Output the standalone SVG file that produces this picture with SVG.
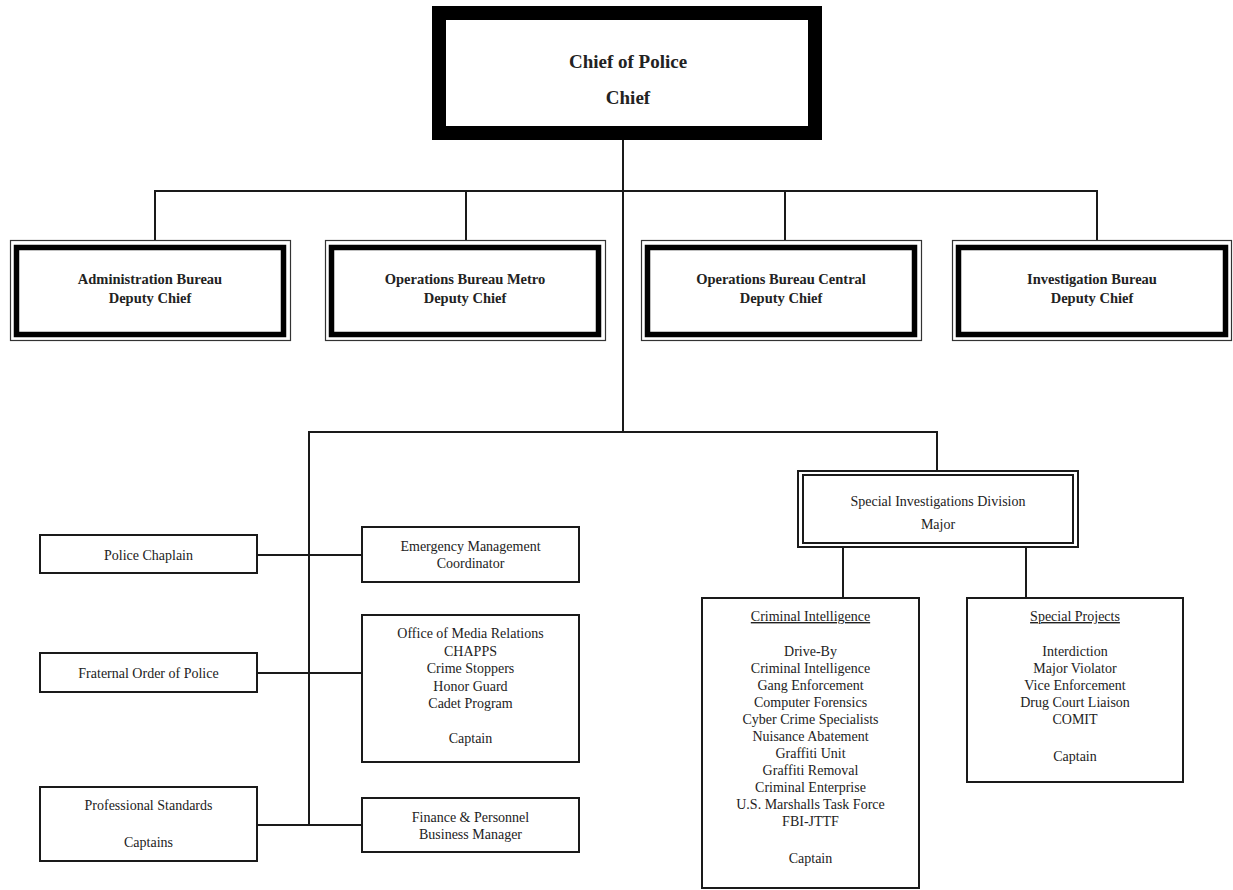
<svg xmlns="http://www.w3.org/2000/svg" width="1233" height="890" viewBox="0 0 1233 890">
<style>
.bg{fill:#fff}
.ln{stroke:#1a1a1a;stroke-width:2;fill:none}
.box{fill:#fff;stroke:#1a1a1a;stroke-width:2}
.thin{fill:#fff;stroke:#333;stroke-width:1.2}
.thick{fill:none;stroke:#000;stroke-width:5.5}
.t{font-family:"Liberation Serif","Times New Roman",serif;font-size:14px;fill:#222;text-anchor:middle}
.b{font-family:"Liberation Serif","Times New Roman",serif;font-size:14.5px;font-weight:bold;fill:#222;text-anchor:middle}
.c{font-family:"Liberation Serif","Times New Roman",serif;font-size:19px;font-weight:bold;fill:#222;text-anchor:middle}
.u{text-decoration:underline}
</style>
<rect class="bg" x="0" y="0" width="1233" height="890"/>
<g id="connectors">
<path class="ln" d="M623,140 V432"/>
<path class="ln" d="M155,240 V191 H1097 V240"/>
<path class="ln" d="M466,191 V240"/>
<path class="ln" d="M785,191 V240"/>
<path class="ln" d="M309,825 V432 H937 V471"/>
<path class="ln" d="M257,555 H362"/>
<path class="ln" d="M257,673 H362"/>
<path class="ln" d="M257,825 H362"/>
<path class="ln" d="M843,547 V598"/>
<path class="ln" d="M1026,547 V598"/>
</g>
<g id="chief">
<rect x="439" y="13" width="376" height="120" fill="#fff" stroke="#000" stroke-width="14"/>
<text class="c" x="628" y="68">Chief of Police</text>
<text class="c" x="628" y="104">Chief</text>
</g>
<g id="admin">
<rect class="thin" x="10.5" y="240.5" width="280" height="100"/>
<rect class="thick" x="16.5" y="247.5" width="267" height="87"/>
<text class="b" x="150" y="284">Administration Bureau</text>
<text class="b" x="150" y="303">Deputy Chief</text>
</g>
<g id="metro">
<rect class="thin" x="325.5" y="240.5" width="280" height="100"/>
<rect class="thick" x="331.5" y="247.5" width="267" height="87"/>
<text class="b" x="465" y="284">Operations Bureau Metro</text>
<text class="b" x="465" y="303">Deputy Chief</text>
</g>
<g id="central">
<rect class="thin" x="641.5" y="240.5" width="280" height="100"/>
<rect class="thick" x="647.5" y="247.5" width="267" height="87"/>
<text class="b" x="781" y="284">Operations Bureau Central</text>
<text class="b" x="781" y="303">Deputy Chief</text>
</g>
<g id="investigation">
<rect class="thin" x="952.5" y="240.5" width="279" height="100"/>
<rect class="thick" x="958.5" y="247.5" width="267" height="87"/>
<text class="b" x="1092" y="284">Investigation Bureau</text>
<text class="b" x="1092" y="303">Deputy Chief</text>
</g>
<g id="chaplain">
<rect class="box" x="40" y="535" width="217" height="38"/>
<text class="t" x="148.5" y="560">Police Chaplain</text>
</g>
<g id="emergency">
<rect class="box" x="362" y="527" width="217" height="55"/>
<text class="t" x="470.5" y="551">Emergency Management</text>
<text class="t" x="470.5" y="568">Coordinator</text>
</g>
<g id="fraternal">
<rect class="box" x="40" y="653" width="217" height="39"/>
<text class="t" x="148.5" y="678">Fraternal Order of Police</text>
</g>
<g id="media">
<rect class="box" x="362" y="615" width="217" height="147"/>
<text class="t" x="470.5" y="638">Office of Media Relations</text>
<text class="t" x="470.5" y="656">CHAPPS</text>
<text class="t" x="470.5" y="673">Crime Stoppers</text>
<text class="t" x="470.5" y="691">Honor Guard</text>
<text class="t" x="470.5" y="708">Cadet Program</text>
<text class="t" x="470.5" y="743">Captain</text>
</g>
<g id="standards">
<rect class="box" x="40" y="787" width="217" height="74"/>
<text class="t" x="148.5" y="810">Professional Standards</text>
<text class="t" x="148.5" y="847">Captains</text>
</g>
<g id="finance">
<rect class="box" x="362" y="798" width="217" height="54"/>
<text class="t" x="470.5" y="822">Finance &amp; Personnel</text>
<text class="t" x="470.5" y="839">Business Manager</text>
</g>
<g id="sid">
<rect class="box" x="798" y="471" width="280" height="76"/>
<rect class="box" x="803" y="475" width="270" height="68"/>
<text class="t" x="938" y="506">Special Investigations Division</text>
<text class="t" x="938" y="529">Major</text>
</g>
<g id="criminal-intelligence">
<rect class="box" x="702" y="598" width="217" height="290"/>
<text class="t u" x="810.5" y="621">Criminal Intelligence</text>
<text class="t" x="810.5" y="656">Drive-By</text>
<text class="t" x="810.5" y="673">Criminal Intelligence</text>
<text class="t" x="810.5" y="690">Gang Enforcement</text>
<text class="t" x="810.5" y="707">Computer Forensics</text>
<text class="t" x="810.5" y="724">Cyber Crime Specialists</text>
<text class="t" x="810.5" y="741">Nuisance Abatement</text>
<text class="t" x="810.5" y="758">Graffiti Unit</text>
<text class="t" x="810.5" y="775">Graffiti Removal</text>
<text class="t" x="810.5" y="792">Criminal Enterprise</text>
<text class="t" x="810.5" y="809">U.S. Marshalls Task Force</text>
<text class="t" x="810.5" y="826">FBI-JTTF</text>
<text class="t" x="810.5" y="863">Captain</text>
</g>
<g id="special-projects">
<rect class="box" x="967" y="598" width="216" height="184"/>
<text class="t u" x="1075" y="621">Special Projects</text>
<text class="t" x="1075" y="656">Interdiction</text>
<text class="t" x="1075" y="673">Major Violator</text>
<text class="t" x="1075" y="690">Vice Enforcement</text>
<text class="t" x="1075" y="707">Drug Court Liaison</text>
<text class="t" x="1075" y="724">COMIT</text>
<text class="t" x="1075" y="761">Captain</text>
</g>
</svg>
